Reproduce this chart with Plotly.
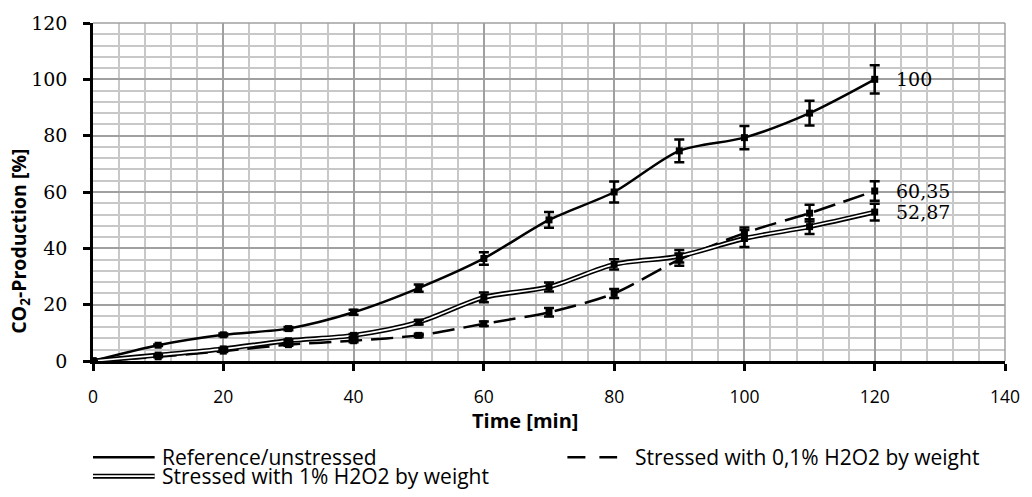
import plotly.graph_objects as go

# ---- data ----
time_min = [0, 10, 20, 30, 40, 50, 60, 70, 80, 90, 100, 110, 120]
reference = [0, 5.6, 9.3, 11.5, 17.3, 25.9, 36.4, 50.1, 60.0, 74.6, 79.3, 88.0, 100.0]
reference_err = [0, 0.3, 0.5, 0.6, 0.9, 1.3, 2.2, 2.8, 3.7, 4.0, 4.1, 4.4, 5.0]
stress_01 = [0, 1.5, 3.5, 5.8, 7.2, 9.1, 13.2, 17.3, 24.0, 36.0, 45.4, 52.5, 60.35]
stress_01_err = [0, 0.2, 0.3, 0.4, 0.5, 0.6, 0.8, 1.5, 1.6, 2.2, 2.0, 3.0, 3.5]
stress_1 = [0, 2.1, 4.3, 7.2, 9.1, 13.8, 22.6, 26.3, 34.3, 37.2, 43.5, 47.7, 52.87]
stress_1_err = [0, 0.2, 0.3, 0.4, 0.5, 0.8, 1.7, 1.6, 1.8, 2.2, 3.0, 2.6, 3.0]

end_labels = ["100", "60,35", "52,87"]
end_values = [reference[-1], stress_01[-1], stress_1[-1]]
legend_names = ["Reference/unstressed", "Stressed with 0,1% H2O2 by weight",
                "Stressed with 1% H2O2 by weight"]

SANS = "Open Sans"
SERIF = "DejaVu Serif"

fig = go.Figure()

err = lambda arr: dict(type="data", array=arr, visible=True, color="black",
                       thickness=2.5, width=5)

# Reference
fig.add_trace(go.Scatter(x=time_min, y=reference, mode="lines+markers",
                         line=dict(color="black", width=2.5, shape="spline", smoothing=0.8),
                         marker=dict(symbol="square", size=7, color="black"),
                         error_y=err(reference_err), showlegend=False))
# 0.1 % (dashed)
fig.add_trace(go.Scatter(x=time_min, y=stress_01, mode="lines+markers",
                         line=dict(color="black", width=2.5, dash="22px,9px",
                                   shape="spline", smoothing=0.8),
                         marker=dict(symbol="square", size=7, color="black"),
                         error_y=err(stress_01_err), showlegend=False))
# 1 % (double line)
fig.add_trace(go.Scatter(x=time_min, y=stress_1, mode="lines",
                         line=dict(color="black", width=5, shape="spline", smoothing=0.8),
                         showlegend=False, hoverinfo="skip"))
fig.add_trace(go.Scatter(x=time_min, y=stress_1, mode="lines",
                         line=dict(color="white", width=1.6, shape="spline", smoothing=0.8),
                         showlegend=False, hoverinfo="skip"))
fig.add_trace(go.Scatter(x=time_min, y=stress_1, mode="markers",
                         marker=dict(symbol="square", size=7, color="black"),
                         error_y=err(stress_1_err), showlegend=False))

# end value labels
for lab, val in zip(end_labels, end_values):
    fig.add_annotation(x=time_min[-1], y=val, xref="x", yref="y", text=lab,
                       showarrow=False, xanchor="left", yanchor="middle", xshift=19,
                       font=dict(family=SERIF, size=19, color="black"))

# ---- layout geometry (pixels) ----
W, H = 1032, 497
L, R, T, B = 93, 22, 19, 136
PW, PH = W - L - R, H - T - B


def px(xp):
    return (xp - L) / PW


def py(yp):
    return (H - B - yp) / PH


# axis titles
fig.add_annotation(x=px(527), y=py(421), xref="paper", yref="paper", text="<b>Time [min]</b>",
                   showarrow=False, xanchor="center", yanchor="middle",
                   font=dict(family=SANS, size=20, color="black"))
fig.add_annotation(x=px(19), y=py(240), xref="paper", yref="paper",
                   text="<b>CO<sub>2</sub>-Production [%]</b>", textangle=-90,
                   showarrow=False, xanchor="center", yanchor="middle",
                   font=dict(family=SANS, size=19.5, color="black"))

# plot-area border (top/right)
fig.add_shape(type="line", xref="paper", yref="paper", x0=0, x1=1, y0=1, y1=1,
              line=dict(color="#a0a0a0", width=1.5))
fig.add_shape(type="line", xref="paper", yref="paper", x0=1, x1=1, y0=0, y1=1,
              line=dict(color="#a0a0a0", width=1.5))

# ---- manual legend ----
leg_font = dict(family=SANS, size=21, color="black")
row1, row2 = 458.5, 477.5
# reference: solid
fig.add_shape(type="line", xref="paper", yref="paper", x0=px(93), x1=px(155),
              y0=py(row1), y1=py(row1), line=dict(color="black", width=2.5))
fig.add_annotation(x=px(160), y=py(row1), xref="paper", yref="paper", text=legend_names[0],
                   showarrow=False, xanchor="left", yanchor="middle", font=leg_font)
# 1%: double
fig.add_shape(type="line", xref="paper", yref="paper", x0=px(93), x1=px(155),
              y0=py(row2), y1=py(row2), line=dict(color="black", width=5))
fig.add_shape(type="line", xref="paper", yref="paper", x0=px(93), x1=px(155),
              y0=py(row2), y1=py(row2), line=dict(color="white", width=1.6))
fig.add_annotation(x=px(160), y=py(row2), xref="paper", yref="paper", text=legend_names[2],
                   showarrow=False, xanchor="left", yanchor="middle", font=leg_font)
# 0.1%: dashed
fig.add_shape(type="line", xref="paper", yref="paper", x0=px(570), x1=px(620),
              y0=py(row1), y1=py(row1), line=dict(color="black", width=2.5, dash="18px,14px"))
fig.add_annotation(x=px(636), y=py(row1), xref="paper", yref="paper", text=legend_names[1],
                   showarrow=False, xanchor="left", yanchor="middle", font=leg_font)

fig.update_layout(
    width=W, height=H, margin=dict(l=L, r=R, t=T, b=B, pad=0),
    plot_bgcolor="white", paper_bgcolor="white", showlegend=False,
    xaxis=dict(range=[0, 140], dtick=20, tick0=0, showline=True, linecolor="black",
               linewidth=2.5, ticks="outside", ticklen=7, tickwidth=2.5, tickcolor="black",
               showgrid=True, gridcolor="#a0a0a0", gridwidth=1.5, zeroline=False,
               minor=dict(dtick=4, showgrid=True, gridcolor="#c8c8c8", gridwidth=1.5),
               tickfont=dict(family=SANS, size=17.5, color="black"), ticklabelstandoff=11),
    yaxis=dict(range=[0, 120], dtick=20, tick0=0, showline=True, linecolor="black",
               linewidth=2.5, ticks="outside", ticklen=7, tickwidth=2.5, tickcolor="black",
               showgrid=True, gridcolor="#a0a0a0", gridwidth=1.5, zeroline=False,
               minor=dict(dtick=4, showgrid=True, gridcolor="#c8c8c8", gridwidth=1.5),
               tickfont=dict(family=SERIF, size=19, color="black"), ticklabelstandoff=12),
)

fig.write_html("out.html")
